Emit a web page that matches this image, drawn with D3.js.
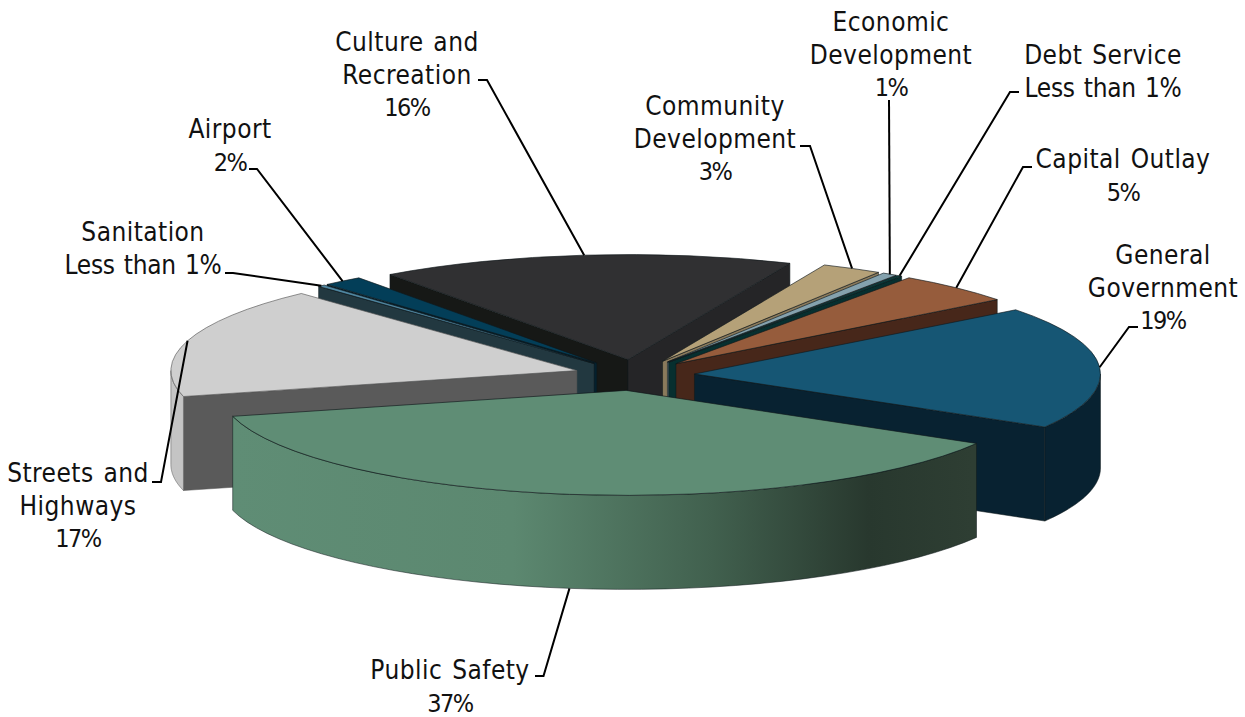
<!DOCTYPE html>
<html><head><meta charset="utf-8">
<script src="https://cdnjs.cloudflare.com/ajax/libs/d3/7.8.5/d3.min.js"></script>
<style>html,body{margin:0;background:#fff}svg{display:block}
text{font-family:"DejaVu Sans Condensed","DejaVu Sans",sans-serif;font-stretch:condensed;font-size:26px;letter-spacing:.45px;word-spacing:2px;fill:#111;text-anchor:middle}
tspan.lt{letter-spacing:-.3px}
tspan.pct{font-size:25px;letter-spacing:-1.5px}</style>
</head><body><svg id="c" width="1245" height="717"></svg>
<script>
const categories=["General Government","Public Safety","Streets and Highways","Sanitation","Airport","Culture and Recreation","Community Development","Economic Development","Debt Service","Capital Outlay"];
const shares=[18.9,37.6,17.1,0.3,1.6,16.5,2.4,0.6,0.2,4.8];
const shareLabels=["19%","37%","17%","Less than 1%","2%","16%","3%","1%","Less than 1%","5%"];
const labelLines=[["General","Government"],["Public Safety"],["Streets and","Highways"],["Sanitation"],["Airport"],["Culture and","Recreation"],["Community","Development"],["Economic","Development"],["Debt Service"],["Capital Outlay"]];
const topColors=["#165674","#5f8d75","#cfcfcf","#4f86a0","#033e58","#303032","#b5a178","#84a2ae","#0b3d3c","#965c3c"];
const wallColors=["#082231","url(#psWall)","#c4c4c4","#223840","#04202e","#252527","#8a7a5c","#5d7680","#072f2f","#47271a"];
const startCutColors=["#082231","#2e3e33","#5a5a5a","#223840","#04202e","#161816","#8a7a5c","#5d7680","#072f2f","#47271a"];
const endCutColors=["#082231","#2e3e33","#5a5a5a","#223840","#04202e","#252527","#8a7a5c","#5d7680","#072f2f","#47271a"];
// label layout: text centre x, first line centre y, leader path start and elbow
const labelLayout=[
 {x:1163,y:254,from:[1138,327],elbow:[1129,327]},
 {x:450,y:669,from:[535,676],elbow:[543.5,676],front:true},
 {x:78,y:472,from:[152,482],elbow:[161,482]},
 {x:143,y:231,from:[225,273],elbow:[233,273]},
 {x:230,y:128,from:[249,169],elbow:[257,169]},
 {x:407,y:41,from:[478,80],elbow:[487,80]},
 {x:715,y:105,from:[800,146],elbow:[810,146]},
 {x:891,y:21,from:null,elbow:[889,100]},
 {x:1103,y:54,from:[1019,92],elbow:[1010,92]},
 {x:1123,y:158,from:[1032,167],elbow:[1023,167]}];
const W=1245,H=717,cx=634.5,cy=375,rx=406,ry=105,depth=94,explode=0.148,lineGap=32.8;
const deg=Math.PI/180;
const xs=d3.scaleLinear().domain([-1,1]).range([cx-rx,cx+rx]);
const ys=d3.scaleLinear().domain([-1,1]).range([cy-ry,cy+ry]);
const svg=d3.select("#c");
const defs=svg.append("defs");
const g=defs.append("linearGradient").attr("id","psWall").attr("gradientUnits","userSpaceOnUse")
 .attr("x1",232).attr("x2",972).attr("y1",0).attr("y2",0);
[[0,"#5f8d75"],[0.38,"#5c8870"],[0.65,"#41604e"],[0.86,"#28382e"],[1,"#2e3e33"]].forEach(s=>g.append("stop").attr("offset",s[0]).attr("stop-color",s[1]));

const pie=d3.pie().sort(null).value(d=>d).startAngle(52.3*deg).endAngle((52.3+360)*deg);
const arcs=pie(shares).map((a,i)=>{
 const t0=a.startAngle-Math.PI/2,t1=a.endAngle-Math.PI/2,m=(t0+t1)/2;
 return {i,a,t0,t1,m,ox:explode*Math.cos(m),oy:explode*Math.sin(m)};
});
const line=d3.line().x(p=>p[0]).y(p=>p[1]);
const rim=(d,t,dz=0)=>[xs(d.ox+Math.cos(t)),ys(d.oy+Math.sin(t))+dz];
const apex=(d,dz=0)=>[xs(d.ox),ys(d.oy)+dz];
const topArc=d3.arc().innerRadius(0).outerRadius(rx);
const order=arcs.slice().sort((p,q)=>Math.sin(p.m)-Math.sin(q.m));
const pieG=svg.append("g");
order.forEach(d=>{
 const s=pieG.append("g");
 const ec=d.i===2?"#555":"#10181a";
 const cut=(t,col)=>s.append("path").attr("d",line([apex(d),rim(d,t),rim(d,t,depth),apex(d,depth)])+"Z")
   .attr("fill",col).attr("stroke",ec).attr("stroke-width",.7).attr("stroke-opacity",.75);
 if(Math.cos(d.t0)<0) cut(d.t0,startCutColors[d.i]);
 if(Math.cos(d.t1)>0) cut(d.t1,endCutColors[d.i]);
 const a=Math.max(d.t0,0),b=Math.min(d.t1,Math.PI);
 if(b>a){
  const ts=d3.range(0,41).map(k=>a+(b-a)*k/40);
  const pts=ts.map(t=>rim(d,t)).concat(ts.slice().reverse().map(t=>rim(d,t,depth)));
  s.append("path").attr("d",line(pts)+"Z").attr("fill",wallColors[d.i]).attr("stroke",ec).attr("stroke-width",.7).attr("stroke-opacity",.75);
 }
 s.append("path").attr("d",topArc({startAngle:d.a.startAngle,endAngle:d.a.endAngle}))
  .attr("transform",`translate(${xs(d.ox)},${ys(d.oy)}) scale(1,${ry/rx})`)
  .attr("vector-effect","non-scaling-stroke")
  .attr("fill",topColors[d.i]).attr("stroke",ec).attr("stroke-width",.8).attr("stroke-opacity",.8);
});
// leaders
const lg=svg.append("g");
arcs.forEach(d=>{
 const L=labelLayout[d.i];
 const end=rim(d,d.m,L.front?depth:0);
 const pts=(L.from?[L.from]:[]).concat([L.elbow,end]);
 lg.append("path").attr("d",line(pts)).attr("fill","none").attr("stroke","#000").attr("stroke-width",2);
});
// labels
arcs.forEach(d=>{
 const L=labelLayout[d.i];
 const lines=labelLines[d.i].concat([shareLabels[d.i]]);
 const t=svg.append("text").attr("x",L.x).attr("y",L.y+9.7);
 lines.forEach((s,k)=>t.append("tspan").attr("x",L.x).attr("y",L.y+9.7+k*lineGap)
   .attr("class",/^Less/.test(s)?"lt":/^\d+%$/.test(s)?"pct":null).text(s));
});
</script></body></html>
